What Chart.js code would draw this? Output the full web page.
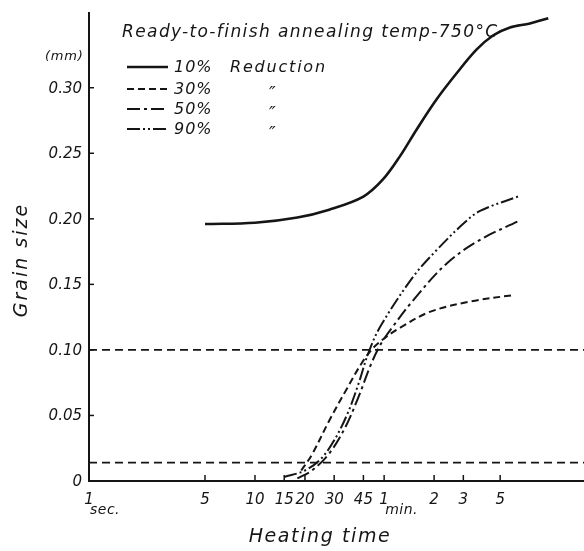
<!DOCTYPE html>
<html>
<head>
<meta charset="utf-8">
<script src="https://cdn.jsdelivr.net/npm/chart.js@4.4.1/dist/chart.umd.min.js"></script>
<style>
  body { margin: 0; background: #fff; }
  #wrap { width: 584px; height: 551px; }
</style>
</head>
<body>
<div id="wrap"><canvas id="grainChart" width="584" height="551"></canvas></div>
<script>
// Grain size vs heating time, annealing at 750 C
// time in seconds (log axis), grain size in mm
const reductions = ['10%', '30%', '50%', '90%'];

const time10 = [5, 10, 18, 28, 45, 59, 75, 94, 124, 164, 216, 273, 344, 454, 585];
const size10 = [0.196, 0.197, 0.201, 0.207, 0.217, 0.230, 0.248, 0.268, 0.291, 0.311, 0.329, 0.340, 0.346, 0.349, 0.353];

const time30 = [19, 22, 28, 36, 44, 52, 62, 75, 113, 200, 368];
const size30 = [0.008, 0.020, 0.046, 0.071, 0.090, 0.102, 0.110, 0.117, 0.129, 0.137, 0.142];

const time50 = [18, 22, 28, 35, 42, 50, 57, 67, 90, 143, 227, 384];
const size50 = [0.002, 0.008, 0.021, 0.041, 0.064, 0.089, 0.104, 0.117, 0.138, 0.166, 0.184, 0.198];

const time90 = [15, 20, 25, 30, 36, 42, 48, 57, 90, 124, 179, 227, 384];
const size90 = [0.003, 0.008, 0.017, 0.031, 0.051, 0.074, 0.097, 0.118, 0.156, 0.176, 0.196, 0.206, 0.217];

// the two dashed horizontal levels across the plot
const refLevels = [0.100, 0.014];

const xMin = 1, xMax = 960;
const yMin = 0, yMax = 0.357;

const xTickValues = [1, 5, 10, 15, 20, 30, 45, 60, 120, 180, 300];
const xTickLabels = ['1', '5', '10', '15', '20', '30', '45', '1', '2', '3', '5'];
const xTickUnits  = ['sec.', '', '', '', '', '', '', 'min.', '', '', ''];
const yTickValues = [0, 0.05, 0.10, 0.15, 0.20, 0.25, 0.30];
const yTickLabels = ['0', '0.05', '0.10', '0.15', '0.20', '0.25', '0.30'];

const ink = '#151515';
const FONT = '"DejaVu Sans", sans-serif';

function toPoints(xs, ys) {
  return xs.map((x, i) => ({ x: x, y: ys[i] }));
}

function curve(label, xs, ys, dash, width) {
  return {
    label: label,
    data: toPoints(xs, ys),
    borderColor: ink,
    borderWidth: width,
    borderDash: dash,
    pointRadius: 0,
    tension: 0.35,
    fill: false
  };
}

const datasets = [
  curve(reductions[0], time10, size10, [], 2.6),
  curve(reductions[1], time30, size30, [7, 4], 2),
  curve(reductions[2], time50, size50, [13, 4, 3, 4], 2),
  curve(reductions[3], time90, size90, [13, 3, 2, 3, 2, 3], 2)
];
refLevels.forEach(lv => {
  datasets.push({
    label: 'level',
    data: [{ x: xMin, y: lv }, { x: xMax, y: lv }],
    borderColor: ink,
    borderWidth: 1.6,
    borderDash: [8, 5],
    pointRadius: 0,
    fill: false
  });
});

function spaced(ctx, px) {
  ctx.letterSpacing = px + 'px';
}

// ticks, labels, title and legend drawn from the scales
const annotate = {
  id: 'annotate',
  afterDraw(chart) {
    const ctx = chart.ctx;
    const xs = chart.scales.x, ys = chart.scales.y;
    const area = chart.chartArea;
    ctx.save();
    ctx.fillStyle = ink;
    ctx.strokeStyle = ink;
    ctx.lineWidth = 1.5;

    // y ticks
    ctx.font = 'italic 15px ' + FONT;
    ctx.textAlign = 'right';
    ctx.textBaseline = 'middle';
    yTickValues.forEach((v, i) => {
      const py = ys.getPixelForValue(v);
      if (v > 0) {
        ctx.beginPath();
        ctx.moveTo(area.left, py);
        ctx.lineTo(area.left + 5, py);
        ctx.stroke();
      }
      ctx.fillText(yTickLabels[i], area.left - 7, py + 1);
    });

    // x ticks
    xTickValues.forEach((v, i) => {
      const px = xs.getPixelForValue(v);
      if (v > xMin) {
        ctx.beginPath();
        ctx.moveTo(px, area.bottom);
        ctx.lineTo(px, area.bottom - 6);
        ctx.stroke();
      }
      ctx.font = 'italic 15px ' + FONT;
      ctx.textAlign = 'center';
      ctx.fillText(xTickLabels[i], px, area.bottom + 19);
      if (xTickUnits[i]) {
        ctx.font = 'italic 14px ' + FONT;
        ctx.textAlign = 'left';
        spaced(ctx, 0.5);
        ctx.fillText(xTickUnits[i], px + 1, area.bottom + 29);
        spaced(ctx, 0);
      }
    });

    // axis titles
    ctx.font = 'italic 19px ' + FONT;
    ctx.textAlign = 'center';
    spaced(ctx, 1.6);
    ctx.fillText('Heating time', 320, area.bottom + 56);
    ctx.save();
    ctx.translate(22, 260);
    ctx.rotate(-Math.PI / 2);
    spaced(ctx, 2);
    ctx.fillText('Grain size', 0, 0);
    ctx.restore();
    ctx.font = 'italic 13px ' + FONT;
    ctx.textAlign = 'left';
    spaced(ctx, 0.8);
    ctx.fillText('(mm)', 45, 57);

    // title
    ctx.font = 'italic 17px ' + FONT;
    spaced(ctx, 1.4);
    ctx.fillText('Ready-to-finish annealing temp-750\u00b0C', 122, 33);

    // legend
    const rows = [67, 89, 109, 129];
    reductions.forEach((name, i) => {
      const ds = chart.data.datasets[i];
      ctx.save();
      ctx.lineWidth = ds.borderWidth;
      ctx.setLineDash(ds.borderDash);
      ctx.beginPath();
      ctx.moveTo(127, rows[i]);
      ctx.lineTo(168, rows[i]);
      ctx.stroke();
      ctx.restore();
      ctx.font = 'italic 16px ' + FONT;
      spaced(ctx, 1);
      ctx.fillText(name, 174, rows[i] + 1);
      if (i === 0) {
        spaced(ctx, 1.8);
        ctx.fillText('Reduction', 230, rows[i] + 1);
      } else {
        ctx.font = 'italic 18px ' + FONT;
        spaced(ctx, 0);
        ctx.fillText('\u2033', 269, rows[i] + 5);
      }
    });
    ctx.restore();
  }
};

const grainChart = new Chart(document.getElementById('grainChart'), {
  type: 'line',
  data: { datasets: datasets },
  options: {
    responsive: false,
    animation: false,
    layout: { padding: { left: 89, top: 13, right: 0, bottom: 70 } },
    plugins: { legend: { display: false }, tooltip: { enabled: false } },
    scales: {
      x: {
        type: 'logarithmic',
        min: xMin,
        max: xMax,
        ticks: { display: false },
        grid: { display: true, drawOnChartArea: false, drawTicks: false },
        border: { color: ink, width: 2 }
      },
      y: {
        type: 'linear',
        min: yMin,
        max: yMax,
        ticks: { display: false },
        grid: { display: true, drawOnChartArea: false, drawTicks: false },
        border: { color: ink, width: 2 }
      }
    }
  },
  plugins: [annotate]
});
</script>
</body>
</html>
